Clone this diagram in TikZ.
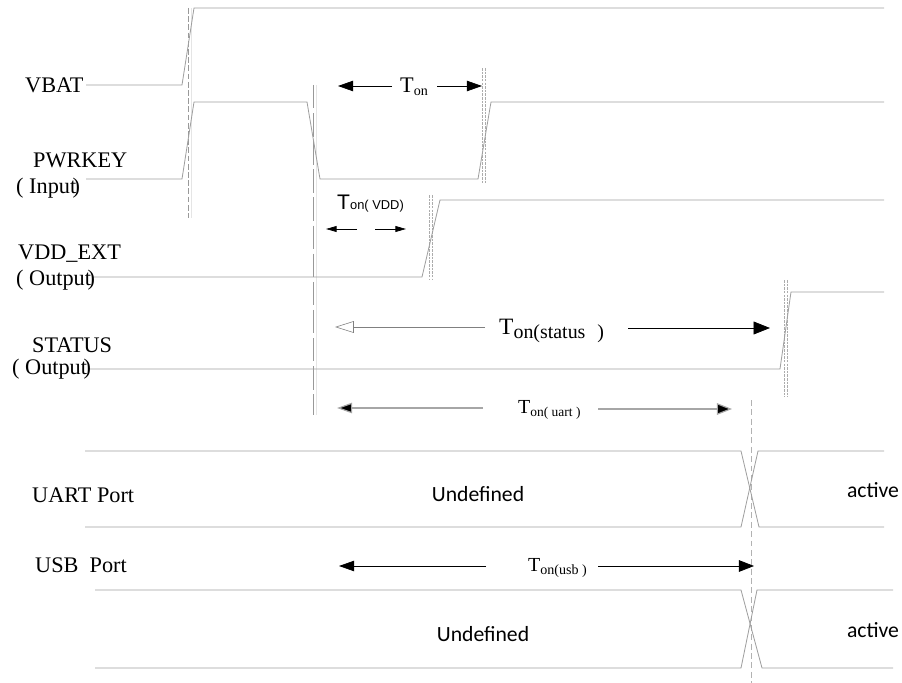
\documentclass[tikz,border=0pt]{standalone}
\usepackage{fontspec}
\setmainfont{Liberation Serif}
\newfontfamily\calibri{Carlito}
\newfontfamily\arial{Liberation Sans}
\usetikzlibrary{arrows.meta}

\tikzset{
  wave/.style={gray!75, line width=0.7pt},
  lbl/.style={anchor=base west, inner sep=0pt, font=\fontsize{19}{19}\selectfont},
  sans/.style={anchor=base, inner sep=0pt, font=\calibri\fontsize{18.5}{18.5}\selectfont},
  tline/.style={line width=0.6pt, -{Triangle[length=13pt,width=9pt]}},
  sqdots/.style={draw=gray!65, line width=2.6pt, dash pattern=on 2.2pt off 0.9pt,
                 postaction={draw=white, line width=1.2pt, dash pattern=on 2.2pt off 0.9pt}},
}

\begin{document}
\begin{tikzpicture}[x=0.03cm,y=-0.03cm]
        \useasboundingbox (0,0) rectangle (902,683);

        % guide lines
        \draw[gray!80, line width=0.5pt, dash pattern=on 5pt off 2pt] (188,8) -- (188,218);
        \draw[gray!20, line width=0.5pt] (191,8) -- (191,218);
        \draw[gray!80, line width=0.6pt, dash pattern=on 20pt off 4pt] (313,85) -- (313,415);
        \draw[gray!20, line width=0.5pt] (316,85) -- (316,415);
        \draw[gray!60, line width=0.6pt, dash pattern=on 5pt off 3pt] (751,400) -- (751,683);
        \draw[sqdots] (484,68) -- (484,183);
        \draw[sqdots] (431,195) -- (431,280);
        \draw[sqdots] (786,280) -- (786,397);

        % signals
        \draw[wave] (86,85) -- (182,85) -- (194,8) -- (884,8); %VBAT
        \draw[wave] (86,179) -- (182,179) -- (194,102) -- (307,102) -- (320,179)
                    -- (478,179) -- (491,102) -- (884,102); %PWRKEY
        \draw[wave] (92,277) -- (422,277) -- (440,200) -- (884,200); %VDD_EXT
        \draw[wave] (88,369) -- (780,369) -- (791,292) -- (884,292); %STATUS
        \draw[wave] (85,451) -- (741,451) -- (759,527) -- (884,527); %UART
        \draw[wave] (85,527) -- (741,527) -- (758,451) -- (884,451);
        \draw[wave] (95,590) -- (741,590) -- (762,668) -- (893,668); %USB
        \draw[wave] (95,668) -- (741,668) -- (757,590) -- (893,590);

        % names
        \node[lbl] (vbat) at (25,93) {VBAT};
        \node[lbl] (pwrkey) at (33,168) {PWRKEY};
        \node[lbl] (pwrkey-io) at (16,194) {( Input\kern-3pt)};
        \node[lbl] (vddext) at (18,260) {VDD\_EXT};
        \node[lbl] (vddext-io) at (16,286) {( Output\kern-3pt)};
        \node[lbl] (status) at (32,352) {STATUS};
        \node[lbl] (status-io) at (12,374) {( Output\kern-3pt)};
        \node[lbl] (uart) at (32,502) {UART Port};
        \node[lbl] (usb) at (35,572) {USB\ \ Port};

        \node[sans] (uart-undef) at (478,501) {Undefined};
        \node[sans] (uart-act) at (873,497) {active};
        \node[sans] (usb-undef) at (483,641) {Undefined};
        \node[sans] (usb-act) at (873,637) {active};

        % times
        \node[lbl] (ton) at (400,93) {T\raisebox{-2.5pt}{\fontsize{12}{12}\selectfont on}};
        \node[lbl, font=\arial\fontsize{18}{18}\selectfont] (ton-vdd) at (337,210)
             {T{\fontsize{11}{11}\selectfont on( VDD)}};
        \node[lbl, font=\fontsize{20}{20}\selectfont] (ton-status) at (499,334)
             {T\raisebox{-3.5pt}{\fontsize{17}{17}\selectfont on(status\hspace{0.6em})}};
        \node[lbl, font=\fontsize{17}{17}\selectfont] (ton-uart) at (518,413)
             {T\raisebox{-3pt}{\fontsize{11.5}{11.5}\selectfont on( uart )}};
        \node[lbl, font=\fontsize{17}{17}\selectfont] (ton-usb) at (528,571)
             {T\raisebox{-3pt}{\fontsize{12}{12}\selectfont on(usb )}};

        \coordinate (ton-a) at (392,86);   \coordinate (ton-l) at (338,86);
        \coordinate (ton-b) at (437,86);   \coordinate (ton-r) at (482,86);
        \draw[tline] (ton-a) -- (ton-l);
        \draw[tline] (ton-b) -- (ton-r);

        \coordinate (vdd-a) at (357,229);  \coordinate (vdd-l) at (326,229);
        \coordinate (vdd-b) at (375,229);  \coordinate (vdd-r) at (406,229);
        \draw[line width=0.6pt, -{Triangle[length=9pt,width=5pt]}] (vdd-a) -- (vdd-l);
        \draw[line width=0.6pt, -{Triangle[length=9pt,width=5pt]}] (vdd-b) -- (vdd-r);

        \coordinate (st-a) at (485,327);   \coordinate (st-l) at (335,327);
        \coordinate (st-b) at (628,328);   \coordinate (st-r) at (770,328);
        \draw[line width=0.5pt, gray, -{Triangle[open,length=16pt,width=10pt]}] (st-a) -- (st-l);
        \draw[line width=0.6pt, -{Triangle[length=14pt,width=11pt]}] (st-b) -- (st-r);

        \coordinate (ua-a) at (483,408);   \coordinate (ua-l) at (337,408);
        \coordinate (ua-b) at (598,409);   \coordinate (ua-r) at (732,409);
        \draw[tline, gray!70, line width=1pt, -{Triangle[length=13pt,width=9pt,fill=black]}] (ua-a) -- (ua-l);
        \draw[tline, gray!70, line width=1pt, -{Triangle[length=13pt,width=10pt,fill=black]}] (ua-b) -- (ua-r);

        \coordinate (usb-a) at (486,566);  \coordinate (usb-l) at (339,566);
        \coordinate (usb-b) at (598,566);  \coordinate (usb-r) at (754,566);
        \draw[tline] (usb-a) -- (usb-l);
        \draw[tline, -{Triangle[length=13pt,width=10pt]}] (usb-b) -- (usb-r);
\end{tikzpicture}
\end{document}
